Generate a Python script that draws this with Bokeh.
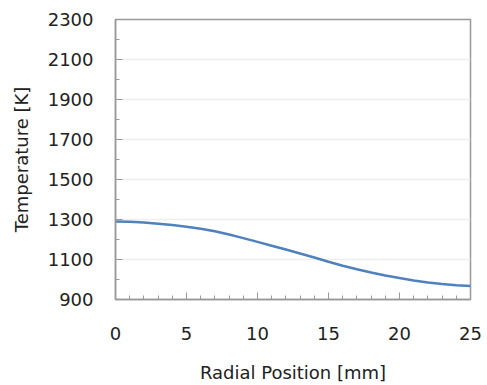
from bokeh.plotting import figure
from bokeh.models import Range1d, FixedTicker
from bokeh.embed import file_html
from bokeh.resources import INLINE

radial_mm = [0, 1, 2, 3, 4, 5, 6, 7, 8, 9, 10, 11, 12, 13, 14, 15, 16, 17, 18, 19, 20, 21, 22, 23, 24, 25]
temperature_K = [1290, 1289, 1285, 1279, 1272, 1264, 1254, 1241, 1225, 1207, 1188, 1169, 1150, 1130, 1110,
                 1089, 1069, 1051, 1035, 1020, 1007, 995, 985, 977, 971, 968]

x_major = [0, 5, 10, 15, 20, 25]
x_minor = list(range(0, 26))
y_major = [900, 1100, 1300, 1500, 1700, 1900, 2100, 2300]
y_minor = [1000, 1200, 1400, 1600, 1800, 2000, 2200]

FONT = "DejaVu Sans"
TXT = "#222222"
AX = "#999999"

p = figure(width=487, height=385, output_backend="svg", toolbar_location=None,
           x_range=Range1d(0, 25), y_range=Range1d(900, 2300),
           min_border_left=115, min_border_top=19, min_border_right=17, min_border_bottom=85)
p.background_fill_color = "white"
p.border_fill_color = "white"
p.outline_line_color = AX
p.outline_line_width = 1.5

p.line(radial_mm, temperature_K, line_color="#4F81BD", line_width=2.5)

p.xaxis.ticker = FixedTicker(ticks=x_major, minor_ticks=x_minor)
p.yaxis.ticker = FixedTicker(ticks=y_major, minor_ticks=y_minor)

for ax in (p.xaxis[0], p.yaxis[0]):
    ax.axis_line_color = AX
    ax.axis_line_width = 1.5
    ax.major_tick_line_color = AX
    ax.minor_tick_line_color = AX
    ax.major_tick_out = 0
    ax.minor_tick_out = 0
    ax.major_tick_in = 7
    ax.minor_tick_in = 4
    ax.major_label_text_font = FONT
    ax.major_label_text_font_size = "18px"
    ax.major_label_text_color = TXT
    ax.axis_label_text_font = FONT
    ax.axis_label_text_font_size = "18px"
    ax.axis_label_text_font_style = "normal"
    ax.axis_label_text_color = TXT

p.xaxis.axis_label = "Radial Position [mm]"
p.yaxis.axis_label = "Temperature [K]"
p.xaxis.major_label_standoff = 27
p.xaxis.axis_label_standoff = 19
p.yaxis.major_label_standoff = 22
p.yaxis.axis_label_standoff = 13

p.xgrid.grid_line_color = None
p.ygrid.grid_line_color = "#eeeeee"
p.ygrid.grid_line_width = 1.5

open("out.html", "w").write(file_html(p, INLINE))
